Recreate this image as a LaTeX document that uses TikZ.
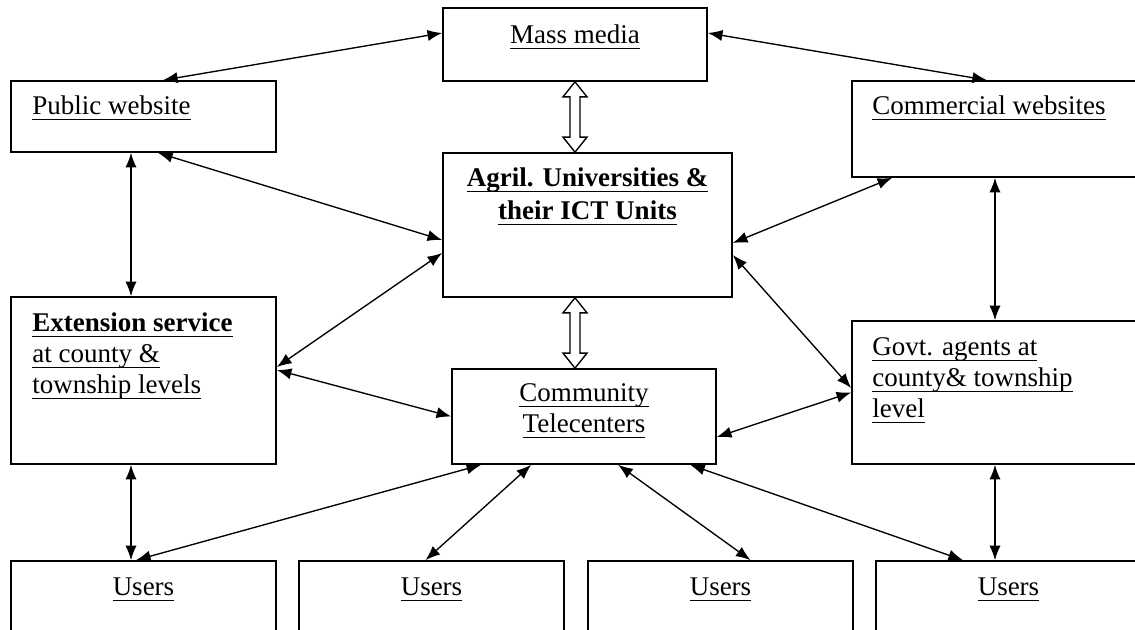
\documentclass[tikz,border=0pt]{standalone}
\usepackage{fontspec}
\setmainfont{Liberation Serif}
\usetikzlibrary{arrows.meta,calc,fit}
\newcommand{\ul}[1]{\underline{\smash{#1}\rule[-0.8pt]{0pt}{0pt}}}

\begin{document}
\begin{tikzpicture}[x=0.4444pt, y=-0.4444pt, >={Latex[length=6.5pt,width=5pt]},
  box/.style={draw, line width=0.75pt, inner sep=0pt},
  txt/.style={inner sep=0pt, font=\fontsize{12}{14}\selectfont},
  link/.style={<->, line width=0.6pt},
  hollow/.style={draw, line width=0.6pt, fill=white,
    to path={let \p1=(\tikztostart), \p2=(\tikztotarget) in
      -- (\x1+5.33pt,\y1-6.67pt) -- (\x1+2.2pt,\y1-6.67pt)
      -- (\x1+2.2pt,\y2+6.67pt) -- (\x1+5.33pt,\y2+6.67pt) -- (\x1,\y2)
      -- (\x1-5.33pt,\y2+6.67pt) -- (\x1-2.2pt,\y2+6.67pt)
      -- (\x1-2.2pt,\y1-6.67pt) -- (\x1-5.33pt,\y1-6.67pt) -- cycle}}]
  \useasboundingbox (0,0) rectangle (1135,630);
  \clip (0,0) rectangle (1135,630);
  \fill[white] (0,0) rectangle (1135,630);

  % boxes
  \node[box, fit={(443,8) (707,81)}] (media) {};
  \node[box, fit={(11,81) (276,152)}] (pub) {};
  \node[box, fit={(852,81) (1145,177)}] (com) {};
  \node[box, fit={(443,153) (732,297)}] (agril) {};
  \node[box, fit={(11,297) (276,464)}] (ext) {};
  \node[box, fit={(452,369) (716,464)}] (tele) {};
  \node[box, fit={(852,321) (1145,464)}] (govt) {};
  \foreach \n/\l in {1/11, 2/299, 3/588, 4/876}
    \node[box, fit={(\l,561) (\l+265,680)}] (us\n) {};

  % texts
  \node[txt, anchor=base] (media-t) at (575,44) {\ul{Mass media}};
  \node[txt, anchor=base west] (pub-t) at (32,115) {\ul{Public website}};
  \node[txt, anchor=base west] (com-t) at (872,115) {\ul{Commercial websites}};
  \node[txt, anchor=base] (agril-t1) at (587.5,187) {\bfseries\ul{Agril. Universities \&}};
  \node[txt, anchor=base] (agril-t2) at (587.5,220) {\bfseries\ul{their ICT Units}};
  \node[txt, anchor=base west] (ext-t1) at (32,332) {\bfseries\ul{Extension service}};
  \node[txt, anchor=base west] (ext-t2) at (32,363) {\ul{at county \&}};
  \node[txt, anchor=base west] (ext-t3) at (32,394) {\ul{township levels}};
  \node[txt, anchor=base] (tele-t1) at (584,402) {\ul{Community}};
  \node[txt, anchor=base] (tele-t2) at (584,433) {\ul{Telecenters}};
  \node[txt, anchor=base west] (govt-t1) at (872,356) {\ul{Govt. agents at}};
  \node[txt, anchor=base west] (govt-t2) at (872,387) {\ul{county\& township}};
  \node[txt, anchor=base west] (govt-t3) at (872,418) {\ul{level}};
  \foreach \n in {1,...,4}
    \node[txt, anchor=base] (us\n-t) at ($(us\n.north)+(0,35)$) {\ul{Users}};

  % hollow links
  \draw[hollow] (media.south) to (agril.north -| media.south);
  \draw[hollow] (agril.south -| media.south) to (tele.north -| media.south);

  % links
  \draw[link] ($(pub.north)+(19.5,0)$) -- ($(media.west)+(0,-11.5)$);
  \draw[link] ($(media.east)+(0,-11.5)$) -- ($(com.north)+(-11.5,0)$);
  \draw[link] ($(pub.south)+(-12.5,0)$) -- ($(ext.north)+(-12.5,0)$);
  \draw[link] ($(pub.south)+(14.5,0)$) -- ($(agril.west)+(0,15)$);
  \draw[link] ($(ext.east)+(0,-13.5)$) -- ($(agril.west)+(0,28)$);
  \draw[link] ($(ext.east)+(0,-10.5)$) -- (tele.west);
  \draw[link] ($(com.south west)+(41,0)$) -- ($(agril.east)+(0,18)$);
  \draw[link] ($(com.south)+(-3.5,0)$) -- ($(govt.north)+(-3.5,0)$);
  \draw[link] ($(agril.east)+(0,30)$) -- ($(govt.west)+(0,-4.5)$);
  \draw[link] ($(tele.east)+(0,20.5)$) -- (govt.west);
  \draw[link] ($(ext.south)+(-12.5,0)$) -- ($(us1.north)+(-12.5,0)$);
  \draw[link] ($(govt.south)+(-3.5,0)$) -- ($(us4.north)+(-13.5,0)$);
  \draw[link] ($(tele.south west)+(30,0)$) -- ($(us1.north)+(-7.5,0)$);
  \draw[link] ($(tele.south west)+(80,0)$) -- ($(us2.north)+(-6,0)$);
  \draw[link] ($(tele.south west)+(167,0)$) -- ($(us3.north)+(30,0)$);
  \draw[link] ($(tele.south west)+(239,0)$) -- ($(us4.north)+(-45.5,0)$);
\end{tikzpicture}
\end{document}
